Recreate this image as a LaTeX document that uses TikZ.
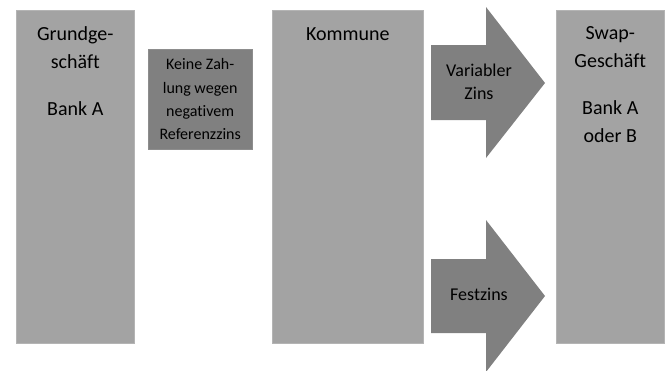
\documentclass[tikz,border=0pt]{standalone}
\usepackage{fontspec}
\setmainfont{Carlito}[Ligatures=NoCommon]
\definecolor{boxgray}{HTML}{A3A3A3}
\definecolor{edgegray}{HTML}{B4B4B4}
\definecolor{arrowgray}{HTML}{808080}
\tikzset{
  bigbox/.style={fill=boxgray,draw=edgegray,line width=0.6pt,minimum height=333pt,inner sep=0pt,anchor=north west},
  bigtext/.style={align=center,inner sep=0pt,anchor=base,font=\fontsize{20}{28}\selectfont},
  arrowtext/.style={align=center,inner sep=0pt,anchor=base,font=\fontsize{18}{23}\selectfont},
  notebox/.style={fill=arrowgray,draw=arrowgray!90,minimum width=104pt,minimum height=100pt,inner sep=0pt,anchor=north west,align=center,font=\fontsize{16}{23.3}\selectfont}
}
\begin{document}
\begin{tikzpicture}[x=1pt,y=-1pt]
  \useasboundingbox (0,0) rectangle (667,370);
  \node[bigbox,minimum width=118pt] (grund) at (16,10) {};
  \node[bigbox,minimum width=151pt] (kommune) at (272,10) {};
  \node[bigbox,minimum width=108pt] (swap) at (556,10) {};
  \node[notebox] (keine) at (148,49) {Keine Zah-\\lung wegen\\negativem\\Referenzzins};
  \fill[arrowgray] (431,45) -- (486,45) -- (486,7) -- (545,83) -- (486,158) -- (486,120) -- (431,120) -- cycle;
  \fill[arrowgray] (431,259) -- (486,259) -- (486,220) -- (545,296) -- (486,372) -- (486,333) -- (431,333) -- cycle;
  % anchor=base sits on the last line
  \node[bigtext] (grundtxt) at (grund.north |- 0,115) {Grundge-\\schäft\\[19pt]Bank A};
  \node[bigtext] (kommunetxt) at (kommune.north |- 0,40) {Kommune};
  \node[bigtext] (swaptxt) at (swap.north |- 0,142) {Swap-\\Geschäft\\[19pt]Bank A\\oder B};
  \node[arrowtext] (vartxt) at (479,99) {Variabler\\Zins};
  \node[arrowtext] (festtxt) at (479,300) {Festzins};
\end{tikzpicture}
\end{document}
